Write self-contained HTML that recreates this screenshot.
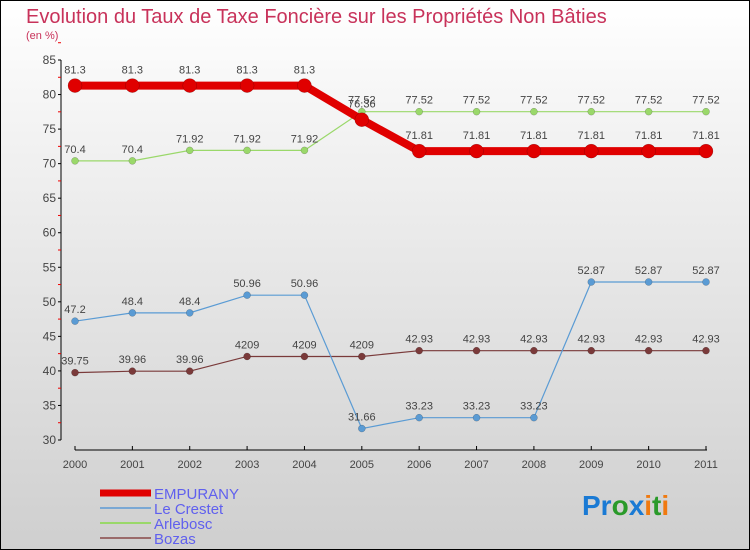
<!DOCTYPE html>
<html><head><meta charset="utf-8"><style>
body{margin:0}
#c{width:750px;height:550px;position:relative;box-sizing:border-box;border:1px solid #000;background:linear-gradient(#fff,#f2f2f2 25%,#cfcfcf);font-family:"Liberation Sans",sans-serif;overflow:hidden}
</style></head><body>
<div id="c">
<svg id="s" width="750" height="550" style="position:absolute;left:-1px;top:-1px">
<text x="26" y="23" font-size="20" fill="#c8325a">Evolution du Taux de Taxe Foncière sur les Propriétés Non Bâties</text>
<text x="26" y="39" font-size="11" fill="#c8325a">(en %)</text>
</svg>
</div>
<script>
const years=[2000,2001,2002,2003,2004,2005,2006,2007,2008,2009,2010,2011];
const yTicks=[30,35,40,45,50,55,60,65,70,75,80,85];
const empurany=[81.3,81.3,81.3,81.3,81.3,76.36,71.81,71.81,71.81,71.81,71.81,71.81];
const leCrestet=[47.2,48.4,48.4,50.96,50.96,31.66,33.23,33.23,33.23,52.87,52.87,52.87];
const arlebosc=[70.4,70.4,71.92,71.92,71.92,77.52,77.52,77.52,77.52,77.52,77.52,77.52];
const bozas=[39.75,39.96,39.96,42.09,42.09,42.09,42.93,42.93,42.93,42.93,42.93,42.93];
const empLabels=["81.3","81.3","81.3","81.3","81.3","76.36","71.81","71.81","71.81","71.81","71.81","71.81"];
const creLabels=["47.2","48.4","48.4","50.96","50.96","31.66","33.23","33.23","33.23","52.87","52.87","52.87"];
const arlLabels=["70.4","70.4","71.92","71.92","71.92","77.52","77.52","77.52","77.52","77.52","77.52","77.52"];
const bozLabels=["39.75","39.96","39.96","4209","4209","4209","42.93","42.93","42.93","42.93","42.93","42.93"];
const s=document.getElementById('s');const NS='http://www.w3.org/2000/svg';
function X(i){return 75+i*(706-75)/11}
function Y(v){return 440-(v-30)*380/55}
function mk(t,a,name){const e=document.createElementNS(NS,t);for(const k in a)e.setAttribute(k,a[k]);


s.appendChild(e);return e}
mk('line',{x1:61,y1:Y(85),x2:61,y2:440,stroke:'#000'},'y-axis');
yTicks.forEach(v=>{mk('line',{x1:58,y1:Y(v),x2:61,y2:Y(v),stroke:'#000'},'y-tick');
mk('line',{x1:58,y1:Y(v+2.5),x2:61,y2:Y(v+2.5),stroke:'#e00'},'y-minor-tick');
const t=mk('text',{x:56,y:Y(v)+4,'text-anchor':'end','font-size':12,fill:'#444'},'y-tick-label');t.textContent=v;});
mk('line',{x1:75,y1:450,x2:707,y2:450,stroke:'#000'},'x-axis');
years.forEach((y,i)=>{mk('line',{x1:X(i),y1:446,x2:X(i),y2:450,stroke:'#000'},'x-tick');
const t=mk('text',{x:X(i),y:468,'text-anchor':'middle','font-size':11,fill:'#444'},'x-tick-label');t.textContent=y;});
function series(vals,labs,color,w,r,name,dy){
mk('polyline',{points:vals.map((v,i)=>X(i)+','+Y(v)).join(' '),fill:'none',stroke:color,'stroke-width':w},name+'-line');
vals.forEach((v,i)=>{mk('circle',{cx:X(i),cy:Y(v),r:r,fill:color,stroke:'rgba(0,0,0,0.3)','stroke-width':0.5},name+'-point');
const t=mk('text',{x:X(i),y:Y(v)+dy,'text-anchor':'middle','font-size':11,fill:'#444'},name+'-value');t.textContent=labs[i];});}
series(bozas,bozLabels,'#7a3a3a',1.2,3.5,'bozas',-8);
series(leCrestet,creLabels,'#5a9bd4',1.2,3.5,'le-crestet',-8);
series(arlebosc,arlLabels,'#9ad86a',1.2,3.5,'arlebosc',-8);
series(empurany,empLabels,'#e00000',8,7,'empurany',-12);
const leg=[['EMPURANY','#e00000',7],['Le Crestet','#7aa8d4',2],['Arlebosc','#9ad86a',2],['Bozas','#9a6a6a',2]];
leg.forEach((l,i)=>{const y=493+i*15;
mk('line',{x1:100,y1:y,x2:151,y2:y,stroke:l[1],'stroke-width':l[2]},'legend-swatch');
const t=mk('text',{x:154,y:y+6,'font-size':15,fill:'#6060ee'},'legend-label');t.textContent=l[0];});
const p=mk('text',{x:582,y:515,'font-size':28,'font-weight':'bold'},'proxiti-logo');
[['Pr','#1a7ad4'],['o','#2a9a2a'],['x','#1a7ad4'],['i','#f07a10'],['t','#2a9a2a'],['i','#f07a10']].forEach(a=>{const ts=document.createElementNS(NS,'tspan');ts.setAttribute('fill',a[1]);ts.textContent=a[0];p.appendChild(ts);});
</script>
</body></html>
